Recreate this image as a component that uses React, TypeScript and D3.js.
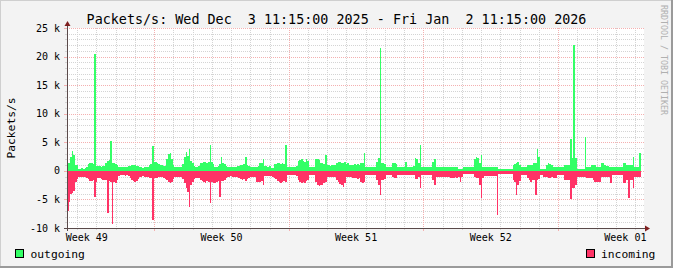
import React from "react";
import * as d3 from "d3";

const W = 673;
const H = 268;
const START_MS = Date.UTC(2025, 11, 3, 11, 15);
const END_MS = Date.UTC(2026, 0, 2, 11, 15);
const STEP_MS = 2 * 3600 * 1000;

const titleText = "Packets/s: Wed Dec  3 11:15:00 2025 - Fri Jan  2 11:15:00 2026";
const yAxisTitle = "Packets/s";
const watermark = "RRDTOOL / TOBI OETIKER";
const seriesNames = ["outgoing", "incoming"];
const seriesColors = ["#33ff66", "#ff3366"];
const yMajorTicksK = [-10, -5, 0, 5, 10, 15, 20, 25];

// thousand packets per second, 2-hour samples from the start time
const outgoingK = [
  1.3, 1.3, 2.4, 3.5, 2.8, 1.1, 1.0, 0.4, 0.4, 0.5, 0.4, 0.5,
  0.6, 1.2, 1.4, 1.3, 1.2, 20.5, 0.9, 0.8, 0.8, 0.7, 0.8, 0.9,
  1.4, 1.7, 1.9, 5.2, 1.4, 1.3, 1.2, 1.0, 0.7, 0.6, 0.7, 0.6,
  0.7, 0.7, 0.8, 0.9, 1.0, 1.1, 1.0, 0.9, 0.8, 0.6, 0.6, 0.5,
  0.6, 0.6, 0.7, 1.0, 1.2, 4.3, 1.5, 1.6, 1.4, 1.2, 1.0, 1.0,
  0.8, 0.8, 2.0, 3.0, 3.1, 2.0, 1.0, 0.7, 0.6, 0.6, 0.6, 0.7,
  1.2, 2.5, 3.3, 2.6, 3.8, 1.8, 1.3, 0.8, 0.7, 0.7, 0.8, 1.3,
  1.4, 1.6, 1.5, 1.3, 1.6, 4.5, 1.5, 1.2, 0.7, 0.7, 0.8, 1.2,
  2.4, 1.3, 1.2, 0.9, 0.7, 0.7, 0.6, 0.7, 0.6, 0.7, 0.8, 0.9,
  1.0, 1.1, 1.2, 2.5, 1.0, 0.9, 0.7, 0.7, 0.6, 0.7, 0.7, 0.8,
  1.3, 1.3, 2.1, 0.8, 0.8, 0.7, 0.8, 0.5, 0.5, 1.2, 1.2, 1.3,
  1.3, 1.2, 1.3, 1.2, 4.6, 0.7, 0.7, 0.6, 0.7, 0.7, 0.7, 0.8,
  1.7, 1.9, 2.1, 1.8, 1.6, 2.0, 1.7, 0.6, 0.6, 0.6, 0.7, 2.0,
  2.1, 1.9, 1.3, 1.3, 1.2, 2.7, 1.0, 1.0, 0.9, 1.0, 1.0, 1.1,
  1.3, 1.6, 1.5, 1.4, 1.3, 1.5, 1.2, 1.3, 1.0, 1.1, 1.1, 1.2,
  1.1, 1.2, 1.0, 1.3, 1.3, 3.2, 0.7, 0.7, 0.6, 0.7, 0.7, 0.7,
  0.7, 1.5, 2.2, 21.5, 1.3, 1.3, 1.2, 0.7, 0.7, 0.7, 0.7, 1.3,
  1.3, 1.2, 0.7, 0.7, 0.6, 0.7, 0.7, 1.6, 0.7, 0.7, 0.6, 0.7,
  0.8, 2.2, 2.0, 1.3, 4.6, 0.7, 0.7, 0.6, 0.7, 0.7, 0.6, 0.7,
  1.6, 2.0, 0.7, 0.7, 0.6, 0.7, 0.7, 0.7, 0.6, 0.7, 0.7, 0.7,
  0.7, 0.6, 0.7, 0.7, 0.4, 0.4, 0.4, 0.7, 0.7, 0.6, 0.7, 0.7,
  0.7, 0.7, 2.0, 2.5, 2.2, 1.3, 2.8, 0.6, 0.6, 0.6, 0.6, 0.6,
  0.6, 0.6, 0.6, 0.6, 0.6, 0.4, 0.4, 0.4, 0.4, 0.4, 0.4, 0.4,
  0.4, 0.4, 1.0, 1.2, 1.3, 1.6, 1.1, 0.6, 0.6, 0.6, 0.6, 1.0,
  1.0, 1.0, 1.0, 1.3, 1.4, 3.9, 2.5, 0.4, 0.4, 0.4, 0.4, 1.0,
  1.3, 1.2, 1.0, 0.7, 0.7, 0.7, 0.6, 0.6, 0.6, 0.6, 1.0, 1.0,
  1.0, 1.0, 5.5, 2.3, 22.0, 2.3, 0.4, 0.4, 0.4, 0.4, 0.4, 5.9,
  0.6, 0.6, 0.6, 1.0, 1.0, 1.0, 0.7, 0.7, 0.7, 1.3, 1.3, 1.0,
  0.9, 0.8, 0.7, 0.7, 0.7, 0.7, 0.7, 0.7, 0.7, 0.7, 0.7, 1.3,
  1.3, 1.0, 1.0, 1.0, 1.0, 2.5, 0.7, 0.7, 0.7, 3.2,
];

// drawn below zero
const incomingK = [
  7.0, 5.4, 4.0, 3.8, 3.6, 2.0, 1.5, 1.0, 1.0, 1.0, 1.1, 1.0,
  1.2, 1.5, 1.7, 1.8, 1.6, 4.5, 1.9, 1.3, 1.3, 1.4, 1.6, 1.6,
  1.6, 7.3, 1.8, 2.0, 9.3, 2.0, 2.1, 1.6, 0.9, 0.8, 0.8, 0.8,
  0.9, 0.8, 0.9, 1.2, 1.6, 1.8, 2.0, 1.7, 1.4, 1.0, 1.0, 0.9,
  1.0, 1.1, 1.0, 1.2, 1.3, 8.6, 1.3, 1.2, 1.3, 1.1, 1.0, 1.0,
  1.3, 1.4, 1.6, 1.9, 2.2, 1.9, 1.4, 1.1, 1.0, 1.0, 1.1, 1.1,
  1.5, 2.2, 3.0, 3.7, 6.3, 2.5, 2.0, 1.4, 1.3, 1.2, 1.3, 1.6,
  1.8, 2.0, 2.2, 1.8, 2.0, 5.7, 2.0, 2.2, 2.2, 2.0, 1.8, 4.5,
  1.8, 1.7, 1.6, 1.3, 1.0, 1.0, 0.9, 1.0, 1.0, 1.1, 1.0, 1.2,
  1.5, 1.6, 1.5, 1.7, 1.5, 1.3, 1.0, 1.0, 1.0, 1.1, 1.9, 1.9,
  1.9, 1.8, 2.5, 0.9, 0.9, 0.9, 0.9, 0.9, 1.0, 1.3, 1.5, 1.7,
  1.9, 2.2, 2.0, 1.7, 2.0, 0.8, 0.8, 0.8, 0.7, 0.8, 0.8, 0.9,
  1.6, 1.9, 2.2, 2.0, 2.1, 1.8, 1.6, 0.8, 0.8, 0.8, 0.8, 2.0,
  2.5, 2.7, 2.5, 2.4, 2.2, 2.0, 1.0, 1.0, 1.0, 1.0, 1.1, 1.0,
  1.6, 2.0, 2.3, 2.5, 2.8, 2.2, 1.1, 1.1, 1.0, 1.1, 1.3, 1.3,
  1.2, 1.4, 1.3, 1.9, 2.2, 2.0, 0.8, 0.75, 0.75, 0.75, 0.8, 0.75,
  0.8, 1.6, 2.5, 4.2, 1.6, 1.6, 1.5, 0.75, 0.8, 0.75, 0.8, 1.1,
  1.3, 1.2, 0.75, 0.75, 0.75, 0.8, 0.75, 0.8, 0.75, 0.75, 0.8, 0.75,
  0.8, 1.4, 1.5, 1.0, 3.0, 0.75, 0.75, 0.8, 0.75, 0.75, 0.8, 0.75,
  1.6, 2.5, 1.0, 1.0, 1.0, 1.0, 1.0, 1.0, 1.0, 1.0, 1.1, 1.2,
  1.3, 1.2, 1.1, 1.3, 1.0, 1.9, 1.0, 0.6, 0.6, 0.6, 0.6, 0.6,
  0.6, 0.6, 1.1, 1.3, 1.2, 2.5, 4.8, 1.2, 0.9, 0.9, 0.9, 0.9,
  0.9, 0.9, 0.9, 0.9, 7.7, 0.6, 0.6, 0.6, 0.6, 0.6, 0.6, 0.6,
  0.6, 0.6, 1.6, 2.0, 4.2, 2.5, 1.8, 0.75, 0.75, 0.75, 0.75, 1.3,
  1.6, 1.9, 1.6, 1.6, 4.2, 1.6, 1.5, 0.75, 0.75, 1.0, 1.0, 1.0,
  1.2, 1.3, 1.1, 1.3, 1.3, 1.3, 0.75, 0.75, 0.75, 0.75, 1.6, 1.6,
  1.6, 1.6, 5.0, 3.0, 3.0, 2.5, 1.0, 1.0, 1.0, 1.0, 1.0, 1.0,
  1.3, 1.3, 1.3, 1.3, 1.6, 1.9, 1.9, 1.9, 1.9, 1.1, 1.1, 1.0,
  1.0, 1.0, 1.0, 2.2, 0.75, 0.75, 0.75, 0.75, 0.75, 0.75, 0.75, 2.2,
  2.2, 1.6, 4.8, 1.6, 1.6, 3.0, 1.1, 1.1, 1.1, 1.0,
];

const FONT = "'DejaVu Sans Mono', monospace";
const L = 67;
const R = 644;
const T = 28;
const B = 228;

type Pt = { t: Date; o: number; n: number };

export default function App() {
  const x = d3.scaleUtc().domain([new Date(START_MS), new Date(END_MS)]).range([L, R]);
  const y = d3.scaleLinear().domain([-10, 25]).range([B, T]);

  const pts: Pt[] = outgoingK.map((o, i) => ({
    t: new Date(START_MS + i * STEP_MS),
    o,
    n: incomingK[i],
  }));
  // close the last step
  const last = pts[pts.length - 1];
  pts.push({ t: new Date(START_MS + pts.length * STEP_MS), o: last.o, n: last.n });

  const areaOut = d3
    .area<Pt>()
    .x((d) => x(d.t))
    .y0(y(0))
    .y1((d) => y(d.o))
    .curve(d3.curveStepAfter);
  const areaIn = d3
    .area<Pt>()
    .x((d) => x(d.t))
    .y0(y(0))
    .y1((d) => y(-d.n))
    .curve(d3.curveStepAfter);

  const startD = new Date(START_MS);
  const endD = new Date(END_MS);
  const days = d3.utcDay.range(d3.utcDay.ceil(startD), endD);
  const mondays = d3.utcMonday.range(d3.utcMonday.ceil(startD), endD);
  const minorDays = days.filter((d) => d.getUTCDay() !== 1);
  const labelWeeks = d3.utcMonday
    .range(d3.utcMonday.floor(startD), endD)
    .map((m) => new Date(m.getTime() + 3.5 * 86400000))
    .filter((d) => d >= startD && d <= endD);
  const fmtWeek = d3.utcFormat("Week %V");

  const minorY = d3.range(-10, 26, 1).filter((v) => v % 5 !== 0);
  const px = (v: number) => Math.round(v) + 0.5;

  const minorCol = "#d4d4d4";
  const majorCol = "#f4b0b0";

  return (
    <svg
      width={W}
      height={H}
      style={{ position: "absolute", left: 0, top: 0, display: "block" }}
      fontFamily={FONT}
    >
      <rect x={0} y={0} width={W} height={H} fill="#f3f3f3" />
      {/* frame */}
      <line x1={0} y1={0.5} x2={W} y2={0.5} stroke="#cfcfcf" />
      <line x1={0.5} y1={0} x2={0.5} y2={H} stroke="#cfcfcf" />
      <line x1={0} y1={H - 1} x2={W} y2={H - 1} stroke="#9a9a9a" strokeWidth={2} />
      <line x1={W - 1} y1={0} x2={W - 1} y2={H} stroke="#9a9a9a" strokeWidth={2} />

      <rect x={L} y={T} width={R - L} height={B - T} fill="#ffffff" />

      {/* minor grid */}
      <g shapeRendering="crispEdges">
        {minorY.map((v) => (
          <g key={"my" + v}>
            <line x1={L} x2={R} y1={px(y(v))} y2={px(y(v))} stroke={minorCol} strokeDasharray="1,1" />
            <line x1={L - 2} x2={L} y1={px(y(v))} y2={px(y(v))} stroke={minorCol} />
          </g>
        ))}
        {minorDays.map((d) => (
          <g key={"mx" + d.getTime()}>
            <line y1={T} y2={B} x1={px(x(d))} x2={px(x(d))} stroke={minorCol} strokeDasharray="1,1" />
            <line y1={B} y2={B + 2} x1={px(x(d))} x2={px(x(d))} stroke={minorCol} />
          </g>
        ))}
        {yMajorTicksK.map((v) => (
          <g key={"My" + v}>
            <line x1={L} x2={R} y1={px(y(v))} y2={px(y(v))} stroke={majorCol} strokeDasharray="1,1" />
            <line x1={L - 3} x2={L} y1={px(y(v))} y2={px(y(v))} stroke={majorCol} />
          </g>
        ))}
        {mondays.map((d) => (
          <g key={"Mx" + d.getTime()}>
            <line y1={T} y2={B} x1={px(x(d))} x2={px(x(d))} stroke={majorCol} strokeDasharray="1,1" />
            <line y1={B} y2={B + 3} x1={px(x(d))} x2={px(x(d))} stroke={majorCol} />
          </g>
        ))}
      </g>

      {/* data */}
      <path d={areaOut(pts) || ""} fill={seriesColors[0]} shapeRendering="crispEdges" />
      <path d={areaIn(pts) || ""} fill={seriesColors[1]} shapeRendering="crispEdges" />

      {/* axes */}
      <g shapeRendering="crispEdges">
        <line x1={L - 3} x2={R + 2} y1={B + 0.5} y2={B + 0.5} stroke="#5a4a4a" />
        <line x1={L + 0.5} x2={L + 0.5} y1={B + 3} y2={T - 3} stroke="#5a4a4a" />
      </g>
      <path d={`M${R + 1},${B - 2.5} L${R + 6},${B + 0.5} L${R + 1},${B + 3.5} Z`} fill="#7f1f1f" />
      <path d={`M${L - 2.5},${T - 2} L${L + 0.5},${T - 7} L${L + 3.5},${T - 2} Z`} fill="#7f1f1f" />

      {/* y labels */}
      {yMajorTicksK.map((v) => (
        <text
          key={"yl" + v}
          x={60}
          y={y(v)}
          dy="0.36em"
          textAnchor="end"
          fontSize={10}
          fill="#000"
          style={{ whiteSpace: "pre" }}
        >
          {v === 0 ? "0" : `${v} k`}
        </text>
      ))}

      {/* x labels */}
      {labelWeeks.map((d) => (
        <text key={"xl" + d.getTime()} x={x(d)} y={241} textAnchor="middle" fontSize={10} fill="#000">
          {fmtWeek(d)}
        </text>
      ))}

      {/* title */}
      <text x={W / 2} y={23.5} textAnchor="middle" fontSize={13.4} fill="#000" style={{ whiteSpace: "pre" }}>
        {titleText}
      </text>

      {/* y axis title */}
      <text
        transform={`translate(15,${(T + B) / 2}) rotate(-90)`}
        textAnchor="middle"
        fontSize={11.3}
        fill="#000"
      >
        {yAxisTitle}
      </text>

      {/* watermark */}
      <text transform="translate(661,5) rotate(90)" fontSize={8.3} fill="#b0b0b0">
        {watermark}
      </text>

      {/* legend */}
      <rect x={15.5} y={249.5} width={8} height={8} fill={seriesColors[0]} stroke="#000" />
      <text x={30.5} y={258} fontSize={11.3} fill="#000">
        {seriesNames[0]}
      </text>
      <rect x={586.5} y={249.5} width={8} height={8} fill={seriesColors[1]} stroke="#000" />
      <text x={601} y={258} fontSize={11.3} fill="#000">
        {seriesNames[1]}
      </text>
    </svg>
  );
}
